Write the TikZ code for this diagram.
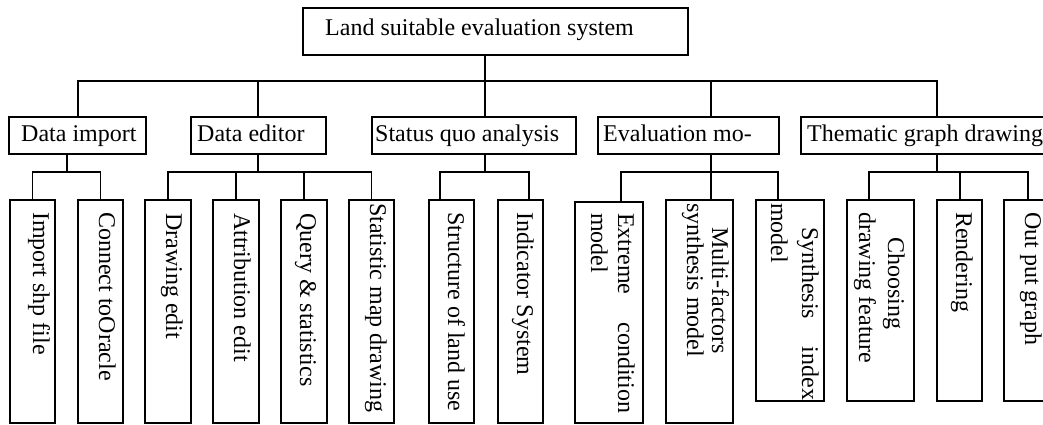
\documentclass[tikz,border=0pt]{standalone}
\usepackage{fontspec}
\setmainfont{Liberation Serif}
\begin{document}
\begin{tikzpicture}[x=1pt,y=-1pt,font=\fontsize{24}{28}\selectfont,
  bx/.style={draw, line width=1.8pt, inner sep=0pt, outer sep=0pt},
  lbl/.style={anchor=base west, inner sep=0pt},
  vlbl/.style={anchor=base west, inner sep=0pt, rotate=-90},
  ln/.style={line width=1.8pt}]
\useasboundingbox (0,0) rectangle (1043,425);
\clip (0,0) rectangle (1043,425);
% top
\node[bx, minimum width=385pt, minimum height=47pt] (top) at (495.5,31.5) {};
\node[lbl] (ttop) at (325,36) {Land suitable evaluation system};
% level 1
\node[bx, minimum width=137pt, minimum height=37pt] (di) at (77.5,135.5) {};
\node[bx, minimum width=135pt, minimum height=37pt] (de) at (258.5,135.5) {};
\node[bx, minimum width=204pt, minimum height=37pt] (sq) at (474,135.5) {};
\node[bx, minimum width=181pt, minimum height=37pt] (em) at (688.5,135.5) {};
\node[bx, minimum width=269pt, minimum height=37pt] (tg) at (935.5,135.5) {};
\node[lbl] (tdi) at (21,141) {Data import};
\node[lbl] (tde) at (197,141) {Data editor};
\node[lbl] (tsq) at (375,141) {Status quo analysis};
\node[lbl] (tem) at (603,141) {Evaluation mo-};
\node[lbl] (ttg) at (807,141) {Thematic graph drawing};
% leaves
\node[bx, minimum width=45pt, minimum height=223pt] (isf) at (32.5,311.5) {};
\node[bx, minimum width=45pt, minimum height=223pt] (cto) at (100.5,311.5) {};
\node[bx, minimum width=46pt, minimum height=223pt] (de1) at (168,311.5) {};
\node[bx, minimum width=46pt, minimum height=223pt] (de2) at (236,311.5) {};
\node[bx, minimum width=46pt, minimum height=223pt] (de3) at (304,311.5) {};
\node[bx, minimum width=45pt, minimum height=223pt] (de4) at (371.5,311.5) {};
\node[bx, minimum width=45pt, minimum height=223pt] (sq1) at (451.5,311.5) {};
\node[bx, minimum width=45pt, minimum height=223pt] (sq2) at (520.5,311.5) {};
\node[bx, minimum width=68pt, minimum height=221pt] (em1) at (609,312.5) {};
\node[bx, minimum width=67pt, minimum height=223pt] (em2) at (699.5,311.5) {};
\node[bx, minimum width=68pt, minimum height=201pt] (em3) at (790,300.5) {};
\node[bx, minimum width=67pt, minimum height=201pt] (tg1) at (880.5,300.5) {};
\node[bx, minimum width=45pt, minimum height=201pt] (tg2) at (959.5,300.5) {};
\node[bx, minimum width=66pt, minimum height=201pt] (tg3) at (1037,300.5) {};
% leaf texts
\node[vlbl] (tisf) at (33,212) {Import shp file};
\node[vlbl] (tcto) at (99,212) {Connect toOracle};
\node[vlbl] (tde1) at (166,213) {Drawing edit};
\node[vlbl] (tde2) at (234,213) {Attribution edit};
\node[vlbl] (tde3) at (300,213) {Query \& statistics};
\node[vlbl] (tde4) at (370,203) {Statistic map drawing};
\node[vlbl] (tsq1) at (448,212) {Structure of land use};
\node[vlbl] (tsq2) at (517,212) {Indicator System};
\node[vlbl] (tem1a) at (618,213) {\makebox[200pt][s]{Extreme condition}};
\node[vlbl] (tem1b) at (591,213) {model};
\node[vlbl] (tem2a) at (712,227) {Multi-factors};
\node[vlbl] (tem2b) at (687,203) {synthesis model};
\node[vlbl] (tem3a) at (802,227) {\makebox[173pt][s]{Synthesis index}};
\node[vlbl] (tem3b) at (771,203) {model};
\node[vlbl] (ttg1a) at (888,237) {Choosing};
\node[vlbl] (ttg1b) at (859,212) {drawing feature};
\node[vlbl] (ttg2) at (956,212) {Rendering};
\node[vlbl] (ttg3) at (1025,212) {Out put graph};
% level-1 connectors
\coordinate (b1) at (78,81);
\coordinate (b2) at (258,81);
\coordinate (b3) at (485,81);
\coordinate (b4) at (711,81);
\coordinate (b5) at (937,81);
\draw[ln] (di.north -| b1) -- (b1) -- (b5) -- (tg.north -| b5);
\draw[ln] (b2) -- (de.north -| b2);
\draw[ln] (b4) -- (em.north -| b4);
\draw[ln] (top.south -| b3) -- (sq.north -| b3);
% level-2 connectors
\coordinate (k1) at (67,172);
\draw[ln] (di.south -| k1) -- (k1);
\draw[ln] (isf.north) -- (isf.north |- k1) -- (cto.north |- k1) -- (cto.north);
\coordinate (k2) at (258,172);
\draw[ln] (de.south -| k2) -- (k2);
\draw[ln] (de1.north) -- (de1.north |- k2) -- (de4.north |- k2) -- (de4.north);
\draw[ln] (de2.north) -- (de2.north |- k2);
\draw[ln] (de3.north) -- (de3.north |- k2);
\coordinate (k3) at (485,172);
\coordinate (k3a) at (440,172);
\coordinate (k3b) at (529,172);
\draw[ln] (sq.south -| k3) -- (k3);
\draw[ln] (sq1.north -| k3a) -- (k3a) -- (k3b) -- (sq2.north -| k3b);
\coordinate (k4) at (711,172);
\coordinate (k4a) at (621,172);
\coordinate (k4c) at (778,172);
\draw[ln] (em.south -| k4) -- (em2.north -| k4);
\draw[ln] (em1.north -| k4a) -- (k4a) -- (k4c) -- (em3.north -| k4c);
\coordinate (k5) at (937,172);
\coordinate (k5a) at (869,172);
\coordinate (k5b) at (960,172);
\coordinate (k5c) at (1028,172);
\draw[ln] (tg.south -| k5) -- (k5);
\draw[ln] (tg1.north -| k5a) -- (k5a) -- (k5c) -- (tg3.north -| k5c);
\draw[ln] (k5b) -- (tg2.north -| k5b);
\end{tikzpicture}
\end{document}
